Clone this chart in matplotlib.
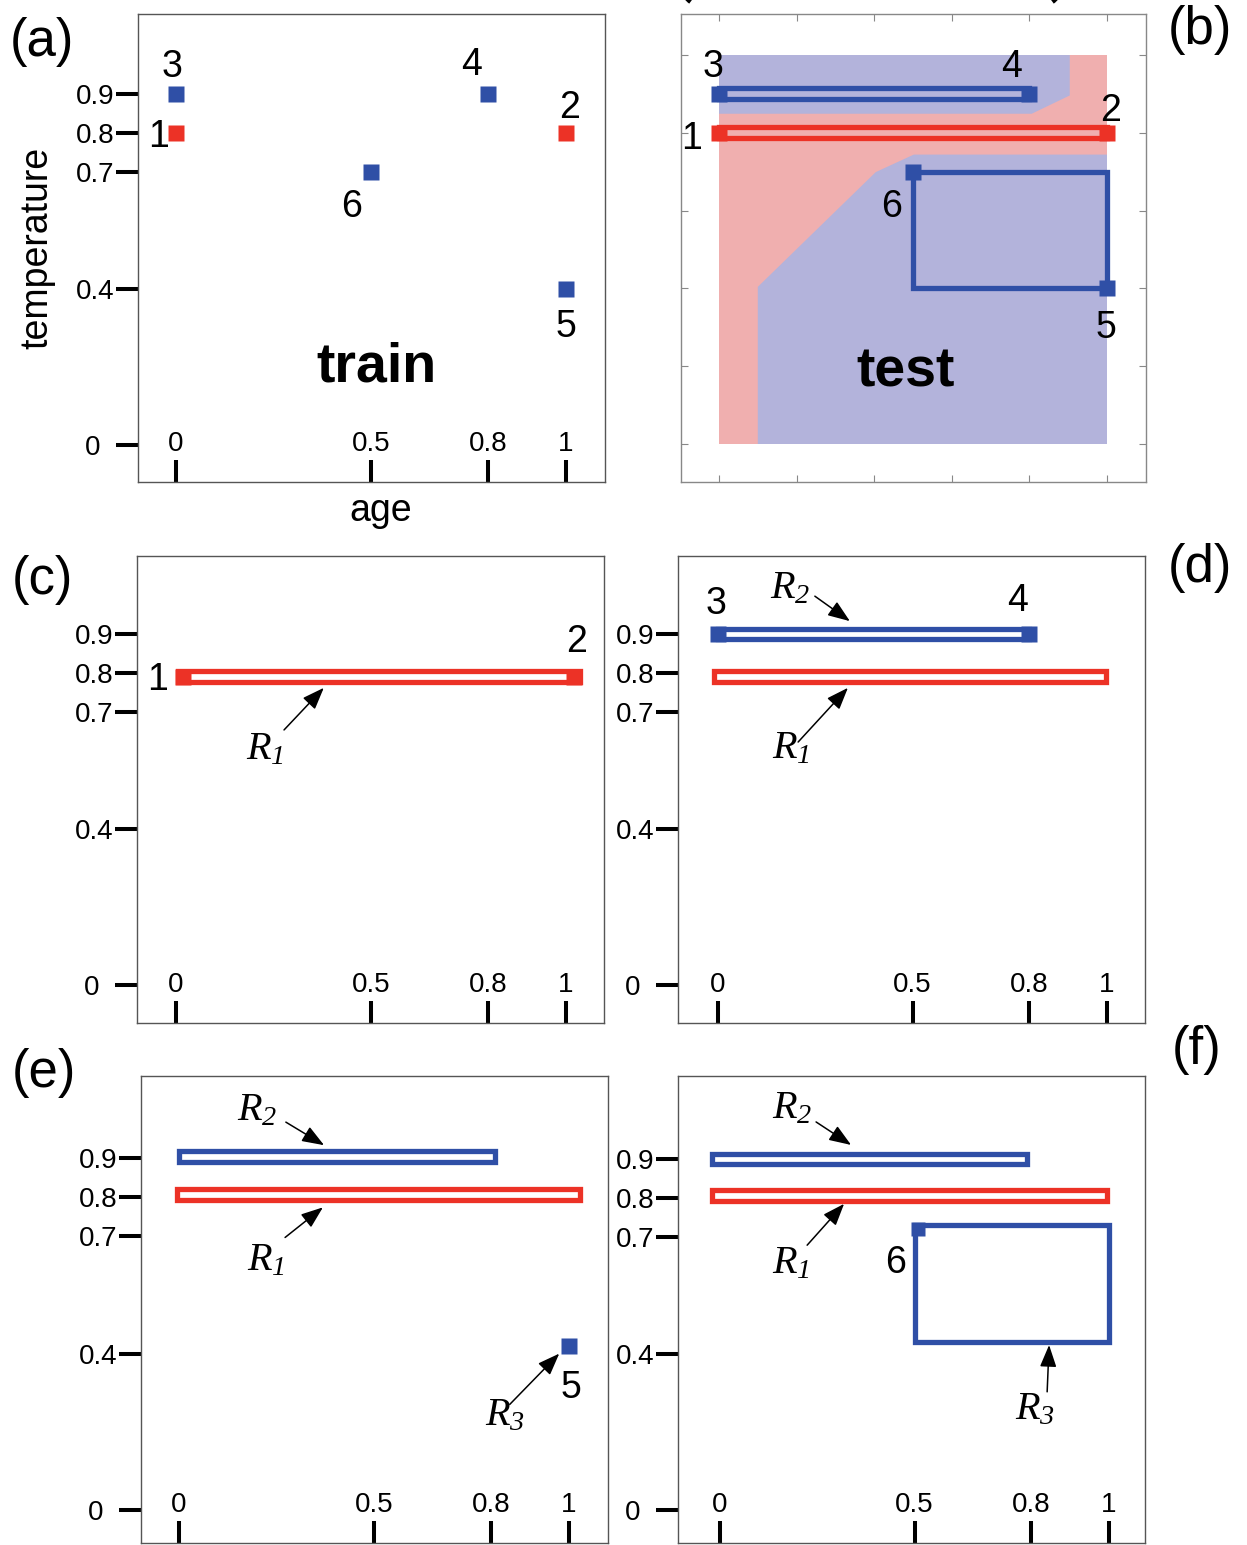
import matplotlib
matplotlib.use('Agg')
import matplotlib.pyplot as plt
from matplotlib.patches import Rectangle, Polygon, Arc

plt.rcParams['font.family'] = ['Liberation Sans', 'DejaVu Sans']
plt.rcParams['mathtext.fontset'] = 'custom'
plt.rcParams['mathtext.it'] = 'Liberation Serif:italic'
plt.rcParams['mathtext.rm'] = 'Liberation Serif:italic'

# ---------------- data ----------------
point_ids = ['1', '2', '3', '4', '5', '6']
point_age = [0.0, 1.0, 0.0, 0.8, 1.0, 0.5]
point_temp = [0.8, 0.8, 0.9, 0.9, 0.4, 0.7]
point_cls = ['red', 'red', 'blue', 'blue', 'blue', 'blue']

xticks = [0, 0.5, 0.8, 1]
xticklabels = ['0', '0.5', '0.8', '1']
yticks = [0, 0.4, 0.7, 0.8, 0.9]
yticklabels = ['0\u2002', '0.4', '0.7', '0.8', '0.9']
grid_ticks = [0, 0.2, 0.4, 0.6, 0.8, 1.0]

# rules (x0, x1, y0, y1)
R1 = (0.0, 1.0, 0.8, 0.8)
R2 = (0.0, 0.8, 0.9, 0.9)
R3 = (0.5, 1.0, 0.4, 0.7)
# as drawn in panels c-f
R1_c = (0.004, 1.035, 0.79, 0.79)
R1_d = (-0.01, 0.997, 0.79, 0.79)
R2_d = (0.0, 0.8, 0.9, 0.9)
R1_e = (-0.006, 1.027, 0.807, 0.807)
R2_e = (0.0, 0.81, 0.903, 0.903)
R3_e_point = (1.0, 0.42)
R1_f = (-0.02, 0.996, 0.806, 0.806)
R2_f = (-0.02, 0.79, 0.9, 0.9)
R3_f = (0.5, 1.0, 0.432, 0.732)

# decision regions of panel (b)
region_blue_top = [(0, 1), (0.904, 1), (0.904, 0.896), (0.806, 0.849), (0, 0.849)]
region_blue_bottom = [(0.1, 0), (1, 0), (1, 0.744), (0.502, 0.744),
                      (0.404, 0.699), (0.1, 0.404)]

RED = '#ec3226'
BLUE = '#2f4fa6'
PINK = '#f0afaf'
LAV = '#b3b3db'
COL = {'red': RED, 'blue': BLUE}

W, H = 1247, 1545
fig = plt.figure(figsize=(W / 100, H / 100), dpi=100)


def make_ax(l, t, r, b, x0, x1, y0, sy):
    sx = x1 - x0
    ax = fig.add_axes([l / W, 1 - b / H, (r - l) / W, (b - t) / H])
    ax.set_xlim((l - x0) / sx, (r - x0) / sx)
    ax.set_ylim((y0 - b) / sy, (y0 - t) / sy)
    return ax


def style_std(ax):
    ax.set_xticks(xticks, xticklabels)
    ax.set_yticks(yticks, yticklabels)
    ax.tick_params(axis='x', direction='in', length=15.8, width=2.9,
                   pad=-37, labelsize=20, color='black')
    ax.tick_params(axis='y', direction='out', length=15.8, width=2.9,
                   pad=1, labelsize=20, color='black')
    for s in ax.spines.values():
        s.set_color('#555555')
        s.set_linewidth(1.0)


def rule_rect(ax, r, color, h=0.028, lw=3.8):
    x0, x1, y0, y1 = r
    if y1 - y0 < 1e-9:
        y0, y1 = y0 - h / 2, y0 + h / 2
    ax.add_patch(Rectangle((x0, y0), x1 - x0, y1 - y0, fill=False,
                           edgecolor=color, linewidth=lw, joinstyle='miter',
                           zorder=3))


def marker(ax, x, y, color, ms=11):
    ax.plot([x], [y], 's', ms=ms, color=color, mec='none', zorder=4)


def arrow(ax, tail, tip):
    ax.annotate('', xy=tip, xytext=tail,
                arrowprops=dict(arrowstyle='-|>,head_length=0.45,head_width=0.17',
                                lw=1.1, color='black', shrinkA=0, shrinkB=0,
                                mutation_scale=30), zorder=5)


def rlabel(ax, x, y, s):
    ax.text(x, y, s, fontsize=29, ha='center', va='center')


def num(ax, x, y, s):
    ax.text(x, y, s, fontsize=27, ha='center', va='center')


# ---------------- (a) ----------------
axa = make_ax(138, 14, 605, 482, 176, 566, 445, 390)
style_std(axa)
for xa, ya, c in zip(point_age, point_temp, point_cls):
    marker(axa, xa, ya, COL[c])
for s, (lx, ly) in zip(point_ids, [(-0.044, 0.79), (1.008, 0.864), (-0.01, 0.969),
                                   (0.759, 0.974), (1.0, 0.303), (0.451, 0.61)]):
    num(axa, lx, ly, s)
axa.text(0.513, 0.2, 'train', fontsize=40, fontweight='bold', ha='center', va='center')
axa.set_xlabel('age', fontsize=27, labelpad=8)
axa.xaxis.label.set_x(0.52)
axa.set_ylabel('temperature', fontsize=27, labelpad=15)

# ---------------- (b) ----------------
axb = make_ax(681, 14, 1146, 482, 719, 1107, 444, 389)
axb.add_patch(Rectangle((0, 0), 1, 1, facecolor=PINK, edgecolor='none', zorder=1))
axb.add_patch(Polygon(region_blue_top, closed=True, facecolor=LAV, edgecolor='none', zorder=1))
axb.add_patch(Polygon(region_blue_bottom, closed=True, facecolor=LAV, edgecolor='none', zorder=1))
rule_rect(axb, R2, BLUE)
rule_rect(axb, R1, RED)
rule_rect(axb, R3, BLUE)
for xa, ya, c in zip(point_age, point_temp, point_cls):
    marker(axb, xa, ya, COL[c])
for s, (lx, ly) in zip(point_ids, [(-0.072, 0.784), (1.008, 0.856), (-0.015, 0.969),
                                   (0.755, 0.969), (0.997, 0.298), (0.446, 0.609)]):
    num(axb, lx, ly, s)
axb.text(0.482, 0.183, 'test', fontsize=40, fontweight='bold', ha='center', va='center')
axb.set_xticks(grid_ticks)
axb.set_yticks(grid_ticks)
axb.tick_params(direction='in', length=5, width=0.8, color='#888888',
                top=True, right=True, labelbottom=False, labelleft=False)
for s in axb.spines.values():
    s.set_color('#888888')
    s.set_linewidth(1.0)

# ---------------- (c) ----------------
axc = make_ax(137, 556, 604, 1023, 176, 566, 985, 390)
style_std(axc)
rule_rect(axc, R1_c, RED)
marker(axc, R1_c[0] + 0.014, R1_c[2], RED)
marker(axc, R1_c[1] - 0.014, R1_c[2], RED)
num(axc, -0.046, 0.782, '1')
num(axc, 1.026, 0.879, '2')
arrow(axc, (0.277, 0.654), (0.379, 0.762))
rlabel(axc, 0.228, 0.608, r'$R_1$')

# ---------------- (d) ----------------
axd = make_ax(678, 556, 1145, 1023, 718, 1107, 985, 390)
style_std(axd)
rule_rect(axd, R2_d, BLUE)
rule_rect(axd, R1_d, RED)
marker(axd, R2_d[0], R2_d[2], BLUE)
marker(axd, R2_d[1], R2_d[2], BLUE)
num(axd, -0.005, 0.977, '3')
num(axd, 0.771, 0.985, '4')
arrow(axd, (0.249, 0.997), (0.339, 0.933))
rlabel(axd, 0.185, 1.02, r'$R_2$')
arrow(axd, (0.206, 0.623), (0.334, 0.762))
rlabel(axd, 0.188, 0.61, r'$R_1$')

# ---------------- (e) ----------------
axe = make_ax(141, 1076, 608, 1543, 179, 569, 1510, 391)
style_std(axe)
rule_rect(axe, R2_e, BLUE)
rule_rect(axe, R1_e, RED)
marker(axe, R3_e_point[0], R3_e_point[1], BLUE, ms=12)
num(axe, 1.005, 0.313, '5')
arrow(axe, (0.848, 0.27), (0.975, 0.4))
rlabel(axe, 0.836, 0.244, r'$R_3$')
arrow(axe, (0.274, 0.992), (0.372, 0.933))
rlabel(axe, 0.2, 1.026, r'$R_2$')
arrow(axe, (0.272, 0.697), (0.369, 0.774))
rlabel(axe, 0.223, 0.641, r'$R_1$')

# ---------------- (f) ----------------
axf = make_ax(678, 1076, 1145, 1543, 720, 1109, 1510, 390)
style_std(axf)
rule_rect(axf, R2_f, BLUE)
rule_rect(axf, R1_f, RED)
rule_rect(axf, R3_f, BLUE)
marker(axf, R3_f[0] + 0.01, R3_f[3] - 0.012, BLUE, ms=10)
num(axf, 0.452, 0.633, '6')
arrow(axf, (0.247, 0.995), (0.337, 0.936))
rlabel(axf, 0.185, 1.033, r'$R_2$')
arrow(axf, (0.224, 0.679), (0.319, 0.785))
rlabel(axf, 0.183, 0.636, r'$R_1$')
arrow(axf, (0.841, 0.303), (0.846, 0.423))
rlabel(axf, 0.81, 0.262, r'$R_3$')

# ---------------- panel letters ----------------
for lab, (px, py) in zip(['(a)', '(b)', '(c)', '(d)', '(e)', '(f)'],
                         [(42, 42), (1200, 30), (42, 580), (1200, 568),
                          (44, 1073), (1197, 1050)]):
    fig.text(px / W, 1 - py / H, lab, fontsize=38, ha='center', va='center')

# bottom tips of a cropped bracket pair above panel (b) (drawn as strokes)
for cx, t1, t2 in [(700, 200, 240), (1043, 300, 340)]:
    fig.add_artist(Arc((cx / W, 1 + 18 / H), 36 / W, 44 / H, theta1=t1, theta2=t2,
                       transform=fig.transFigure, color='black', lw=4.5))

fig.savefig('out.png', dpi=100)
